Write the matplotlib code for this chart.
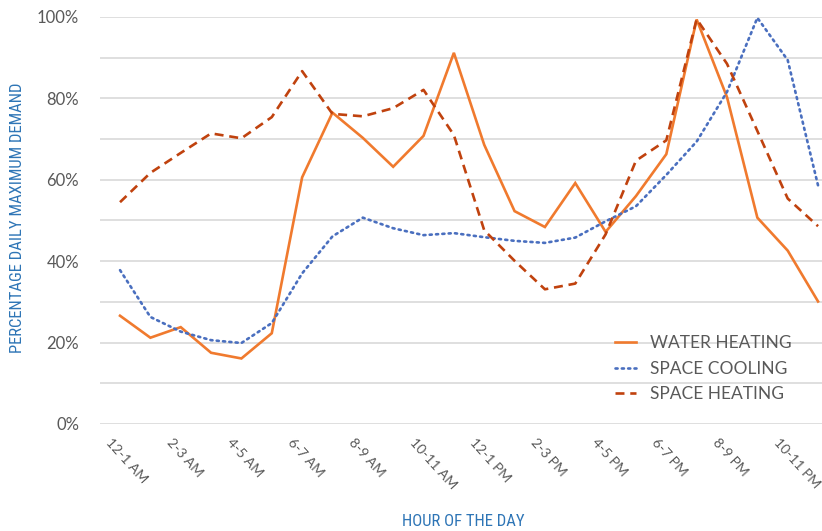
import matplotlib
matplotlib.use("Agg")
import matplotlib.pyplot as plt
from matplotlib import font_manager
from matplotlib.ticker import MultipleLocator, FuncFormatter
from matplotlib.transforms import ScaledTranslation

hours = ["12-1 AM", "1-2 AM", "2-3 AM", "3-4 AM", "4-5 AM", "5-6 AM",
         "6-7 AM", "7-8 AM", "8-9 AM", "9-10 AM", "10-11 AM", "11-12 AM",
         "12-1 PM", "1-2 PM", "2-3 PM", "3-4 PM", "4-5 PM", "5-6 PM",
         "6-7 PM", "7-8 PM", "8-9 PM", "9-10 PM", "10-11 PM", "11-12 PM"]

water_heating = [26.6, 21.2, 23.8, 17.5, 16.1, 22.3, 60.6, 76.5, 70.3, 63.2,
                 70.8, 91.2, 68.6, 52.3, 48.4, 59.2, 47.2, 56.0, 66.3, 99.4,
                 80.3, 50.7, 42.6, 30.1]
space_cooling = [37.8, 26.3, 22.7, 20.6, 19.9, 24.8, 37.0, 46.1, 50.7, 48.1,
                 46.4, 46.9, 45.9, 45.0, 44.5, 45.8, 49.8, 53.5, 61.2, 69.4,
                 81.6, 99.8, 89.4, 58.6]
space_heating = [54.5, 61.7, 66.6, 71.4, 70.2, 75.4, 86.7, 76.2, 75.6, 77.6,
                 82.1, 71.0, 47.6, 40.1, 33.1, 34.5, 46.6, 64.7, 69.7, 99.5,
                 88.5, 72.0, 55.4, 48.6]

series = [
    ("WATER HEATING", water_heating, "#F07A2E", "-"),
    ("SPACE COOLING", space_cooling, "#4A6FBF", (0, (0.8, 1.6))),
    ("SPACE HEATING", space_heating, "#C0420E", (0, (3.4, 2.2))),
]

# pick a narrow face for the axis titles if one is around
narrow = None
for f in font_manager.fontManager.ttflist:
    if f.name in ("Roboto Condensed", "Liberation Sans Narrow", "Open Sans Condensed"):
        narrow = dict(family=f.name)
        break
if narrow is None:
    for f in font_manager.fontManager.ttflist:
        if f.name == "DejaVu Sans" and "Condensed" in f.fname and "Bold" not in f.fname \
                and "Oblique" not in f.fname:
            narrow = dict(family="DejaVu Sans", stretch="condensed")
            break
if narrow is None:
    narrow = dict(family="DejaVu Sans")

fig = plt.figure(figsize=(8.22, 5.31), dpi=100)
ax = fig.add_axes([100 / 822, 107 / 531, 722 / 822, 407 / 531])

x = list(range(len(hours)))
for name, vals, color, ls in series:
    ax.plot(x, [v / 100 for v in vals], color=color, linestyle=ls, lw=1.9,
            label=name, dash_capstyle="round" if name == "SPACE COOLING" else "butt",
            solid_joinstyle="miter")

ax.set_xlim(-0.66, 23.13)
ax.set_ylim(0, 1)
ax.yaxis.set_major_locator(MultipleLocator(0.2))
ax.yaxis.set_minor_locator(MultipleLocator(0.1))
ax.yaxis.set_major_formatter(FuncFormatter(lambda v, p: f"{v * 100:.0f}%"))
ax.grid(axis="y", which="both", color="#D9D9D9", lw=1.2)
ax.set_axisbelow(True)
for s in ax.spines.values():
    s.set_visible(False)

# rotated hour labels, nudged left of their category like the original
ax.set_xticks([])
shift = ScaledTranslation(-12 / 100, -16 / 100, fig.dpi_scale_trans)
for i in x[::2]:
    ax.text(i, 0, hours[i], transform=ax.get_xaxis_transform() + shift,
            rotation=-48, ha="left", va="center", rotation_mode="anchor",
            fontsize=10, color="#595959", family="Lato")

ax.tick_params(axis="y", which="both", length=0, pad=15, labelsize=12,
               labelcolor="#595959")
for t in ax.get_yticklabels():
    t.set_family("Lato")

title_font = dict(fontsize=12, color="#2E75B6", **narrow)
fig.text(463 / 822, 1 - 522 / 531, "HOUR OF THE DAY", ha="center", va="center",
         **title_font)
fig.text(18 / 822, 1 - 218 / 531, "PERCENTAGE DAILY MAXIMUM DEMAND",
         rotation=90, ha="center", va="center", **title_font)

leg = ax.legend(loc="upper left", bbox_to_anchor=(0.692, 0.257), frameon=False,
                handlelength=1.2, handletextpad=0.8, labelspacing=0.56,
                prop=dict(family="Lato", size=12.5))
for t in leg.get_texts():
    t.set_color("#595959")

fig.savefig("out.png", dpi=100)
